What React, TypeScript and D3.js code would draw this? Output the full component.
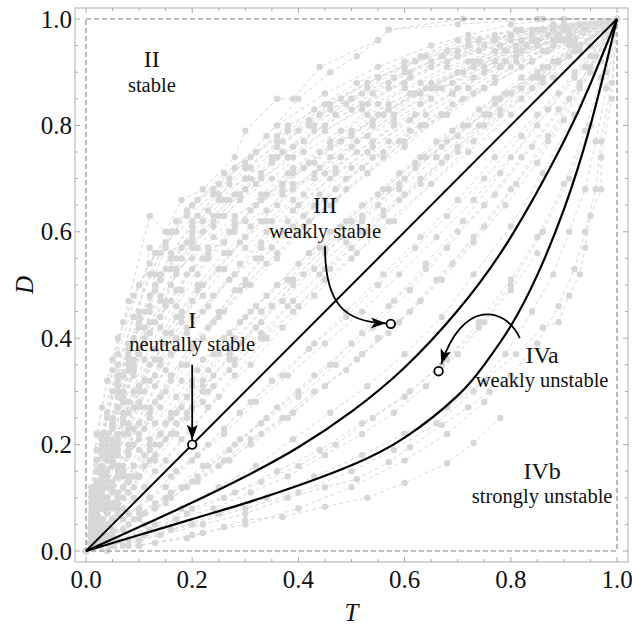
import React from "react";
import * as d3 from "d3";

const W = 632;
const H = 627;

const T_TICKS = [0, 0.2, 0.4, 0.6, 0.8, 1.0];
const D_TICKS = [0, 0.2, 0.4, 0.6, 0.8, 1.0];

const DIAGONAL: number[][] = [[0, 0], [1, 1]];
const MIDDLE_CURVE: number[][] = [[0, 0], [0.1, 0.045], [0.2, 0.091], [0.3, 0.14], [0.4, 0.195], [0.5, 0.262], [0.6, 0.345], [0.7, 0.452], [0.8, 0.59], [0.9, 0.77], [0.95, 0.878], [1, 1]];
const LOWER_CURVE: number[][] = [[0, 0], [0.1, 0.03], [0.2, 0.06], [0.3, 0.09], [0.4, 0.123], [0.5, 0.161], [0.6, 0.213], [0.7, 0.292], [0.75, 0.35], [0.8, 0.423], [0.85, 0.519], [0.9, 0.642], [0.95, 0.8], [1, 1]];

const MARKED_POINTS: number[][] = [[0.2, 0.2], [0.574, 0.427], [0.664, 0.338]];

const GRAY_SERIES: number[][][] = [
  [[0,0],[0.01,0.08],[0.03,0.22],[0.05,0.34],[0.08,0.47],[0.12,0.63],[0.15,0.6],[0.18,0.66],[0.22,0.68],[0.28,0.74],[0.3,0.79],[0.36,0.85],[0.39,0.85],[0.44,0.91],[0.55,0.96],[0.57,0.98],[0.71,1],[0.86,1],[1,1]],
  [[0,0],[0.02,0.1],[0.04,0.21],[0.07,0.33],[0.1,0.45],[0.12,0.57],[0.16,0.55],[0.2,0.6],[0.23,0.64],[0.27,0.69],[0.31,0.72],[0.36,0.77],[0.42,0.81],[0.48,0.85],[0.55,0.89],[0.63,0.93],[0.72,0.96],[0.82,0.98],[0.93,0.99],[1,1]],
  [[0,0],[0.01,0.05],[0.03,0.14],[0.05,0.24],[0.08,0.34],[0.11,0.42],[0.14,0.48],[0.18,0.55],[0.22,0.6],[0.27,0.66],[0.33,0.7],[0.39,0.74],[0.45,0.79],[0.52,0.83],[0.6,0.87],[0.68,0.91],[0.77,0.94],[0.87,0.97],[1,1]],
  [[0,0],[0.02,0.07],[0.04,0.15],[0.06,0.22],[0.09,0.3],[0.13,0.38],[0.17,0.46],[0.21,0.52],[0.26,0.58],[0.31,0.64],[0.37,0.69],[0.43,0.73],[0.5,0.78],[0.57,0.83],[0.65,0.87],[0.74,0.92],[0.84,0.96],[1,1]],
  [[0,0],[0.01,0.06],[0.02,0.13],[0.04,0.19],[0.06,0.27],[0.09,0.36],[0.12,0.41],[0.16,0.5],[0.2,0.57],[0.25,0.63],[0.29,0.67],[0.35,0.73],[0.41,0.77],[0.47,0.82],[0.54,0.86],[0.61,0.9],[0.7,0.93],[0.8,0.96],[0.9,0.98],[1,1]],
  [[0,0],[0.03,0.06],[0.05,0.12],[0.08,0.19],[0.11,0.27],[0.15,0.34],[0.19,0.41],[0.24,0.48],[0.29,0.54],[0.34,0.6],[0.4,0.65],[0.47,0.71],[0.54,0.76],[0.61,0.81],[0.69,0.86],[0.78,0.91],[0.88,0.95],[1,1]],
  [[0,0],[0.02,0.04],[0.04,0.09],[0.07,0.15],[0.1,0.22],[0.14,0.29],[0.18,0.35],[0.23,0.42],[0.28,0.49],[0.33,0.55],[0.39,0.61],[0.45,0.66],[0.52,0.72],[0.59,0.77],[0.67,0.82],[0.75,0.87],[0.84,0.92],[0.92,0.96],[1,1]],
  [[0,0],[0.01,0.09],[0.02,0.17],[0.04,0.26],[0.06,0.33],[0.09,0.4],[0.12,0.46],[0.15,0.53],[0.19,0.58],[0.24,0.62],[0.3,0.68],[0.36,0.74],[0.43,0.8],[0.5,0.85],[0.58,0.89],[0.67,0.93],[0.77,0.96],[0.88,0.98],[1,1]],
  [[0,0],[0.02,0.03],[0.05,0.08],[0.08,0.13],[0.12,0.19],[0.16,0.25],[0.2,0.31],[0.25,0.37],[0.3,0.44],[0.36,0.5],[0.42,0.56],[0.49,0.62],[0.56,0.68],[0.63,0.74],[0.71,0.8],[0.79,0.86],[0.88,0.92],[1,1]],
  [[0,0],[0.02,0.05],[0.03,0.11],[0.05,0.17],[0.07,0.24],[0.1,0.31],[0.13,0.38],[0.17,0.44],[0.21,0.5],[0.26,0.56],[0.31,0.61],[0.37,0.67],[0.44,0.72],[0.51,0.77],[0.58,0.82],[0.66,0.87],[0.75,0.91],[0.85,0.95],[1,1]],
  [[0,0],[0.01,0.04],[0.03,0.1],[0.05,0.18],[0.07,0.26],[0.09,0.34],[0.11,0.4],[0.14,0.47],[0.17,0.52],[0.21,0.57],[0.26,0.63],[0.32,0.69],[0.38,0.74],[0.45,0.79],[0.53,0.84],[0.61,0.89],[0.7,0.93],[0.8,0.97],[1,1]],
  [[0,0],[0.03,0.04],[0.06,0.08],[0.1,0.14],[0.14,0.2],[0.19,0.26],[0.24,0.33],[0.29,0.39],[0.35,0.46],[0.41,0.52],[0.48,0.59],[0.55,0.65],[0.62,0.72],[0.7,0.78],[0.78,0.85],[0.87,0.91],[1,1]],
  [[0,0],[0.02,0.02],[0.05,0.06],[0.09,0.1],[0.13,0.15],[0.18,0.21],[0.23,0.27],[0.28,0.33],[0.34,0.4],[0.4,0.46],[0.46,0.53],[0.53,0.6],[0.6,0.67],[0.68,0.74],[0.76,0.82],[0.85,0.89],[0.93,0.95],[1,1]],
  [[0,0],[0.01,0.03],[0.02,0.07],[0.04,0.12],[0.06,0.18],[0.08,0.24],[0.11,0.3],[0.14,0.36],[0.18,0.43],[0.22,0.5],[0.27,0.56],[0.33,0.62],[0.39,0.68],[0.46,0.74],[0.54,0.8],[0.63,0.86],[0.73,0.91],[0.85,0.96],[1,1]],
  [[0,0],[0.02,0.09],[0.03,0.16],[0.05,0.23],[0.07,0.29],[0.1,0.37],[0.13,0.43],[0.17,0.49],[0.22,0.55],[0.27,0.6],[0.33,0.66],[0.39,0.71],[0.46,0.76],[0.54,0.81],[0.62,0.86],[0.71,0.9],[0.81,0.94],[0.91,0.97],[1,1]],
  [[0,0],[0.02,0.11],[0.04,0.22],[0.06,0.3],[0.08,0.38],[0.1,0.44],[0.13,0.5],[0.16,0.56],[0.2,0.61],[0.25,0.66],[0.3,0.7],[0.36,0.76],[0.42,0.8],[0.49,0.84],[0.57,0.88],[0.65,0.92],[0.75,0.95],[0.86,0.98],[1,1]],
  [[0,0],[0.01,0.02],[0.03,0.05],[0.06,0.09],[0.09,0.14],[0.13,0.2],[0.17,0.26],[0.22,0.32],[0.27,0.38],[0.33,0.45],[0.39,0.51],[0.45,0.57],[0.52,0.63],[0.6,0.7],[0.68,0.77],[0.77,0.84],[0.86,0.91],[1,1]],
  [[0,0],[0.03,0.02],[0.07,0.06],[0.12,0.1],[0.17,0.15],[0.23,0.2],[0.29,0.26],[0.35,0.32],[0.42,0.38],[0.49,0.45],[0.56,0.52],[0.63,0.59],[0.7,0.66],[0.77,0.74],[0.85,0.82],[0.92,0.9],[1,1]],
  [[0,0],[0.04,0.03],[0.09,0.06],[0.15,0.1],[0.21,0.14],[0.27,0.19],[0.33,0.24],[0.4,0.29],[0.47,0.35],[0.54,0.42],[0.61,0.49],[0.68,0.57],[0.75,0.65],[0.82,0.74],[0.89,0.83],[0.95,0.91],[1,1]],
  [[0,0],[0.05,0.03],[0.1,0.07],[0.16,0.11],[0.22,0.16],[0.29,0.21],[0.36,0.27],[0.43,0.33],[0.5,0.39],[0.57,0.46],[0.64,0.54],[0.71,0.62],[0.78,0.71],[0.85,0.8],[0.92,0.89],[1,1]],
  [[0,0],[0.05,0.02],[0.11,0.05],[0.18,0.08],[0.25,0.12],[0.32,0.16],[0.39,0.21],[0.46,0.26],[0.53,0.31],[0.6,0.37],[0.67,0.44],[0.73,0.52],[0.8,0.61],[0.86,0.71],[0.92,0.82],[0.97,0.92],[1,1]],
  [[0,0],[0.06,0.02],[0.13,0.05],[0.2,0.08],[0.28,0.11],[0.36,0.15],[0.44,0.19],[0.52,0.24],[0.6,0.29],[0.67,0.35],[0.74,0.42],[0.8,0.5],[0.86,0.6],[0.91,0.7],[0.95,0.8],[0.98,0.9],[1,1]],
  [[0,0],[0.04,0.0],[0.08,0.01],[0.13,0.015],[0.19,0.024],[0.22,0.034],[0.26,0.045],[0.3,0.058],[0.37,0.064],[0.45,0.083],[0.53,0.1],[0.6,0.128],[0.68,0.165],[0.73,0.203],[0.78,0.25]],
  [[0,0],[0.07,0.01],[0.14,0.03],[0.22,0.05],[0.3,0.07],[0.38,0.1],[0.45,0.12],[0.51,0.135],[0.57,0.167],[0.61,0.195],[0.67,0.237],[0.72,0.27],[0.76,0.3]],
  [[0,0],[0.08,0.02],[0.16,0.04],[0.25,0.07],[0.34,0.1],[0.43,0.14],[0.52,0.18],[0.6,0.22],[0.68,0.27],[0.75,0.32],[0.81,0.37],[0.86,0.42],[0.89,0.43],[0.91,0.48],[0.93,0.52],[0.94,0.57],[0.95,0.63],[0.97,0.68],[0.97,0.74],[0.99,0.85],[1,1]],
  [[0,0],[0.1,0.02],[0.2,0.05],[0.3,0.08],[0.4,0.11],[0.5,0.15],[0.58,0.19],[0.66,0.24],[0.73,0.3],[0.79,0.37],[0.84,0.45],[0.88,0.52],[0.91,0.6],[0.94,0.68],[0.96,0.77],[0.98,0.87],[1,1]],
  [[0,0],[0.01,0.1],[0.02,0.19],[0.03,0.27],[0.05,0.36],[0.07,0.43],[0.1,0.5],[0.13,0.56],[0.17,0.62],[0.21,0.66],[0.26,0.71],[0.32,0.75],[0.38,0.8],[0.45,0.84],[0.53,0.88],[0.62,0.92],[0.72,0.95],[0.84,0.98],[1,1]],
  [[0,0],[0.02,0.05],[0.05,0.13],[0.08,0.2],[0.12,0.27],[0.16,0.33],[0.2,0.39],[0.25,0.45],[0.3,0.51],[0.35,0.57],[0.41,0.63],[0.47,0.68],[0.54,0.74],[0.61,0.79],[0.69,0.84],[0.77,0.89],[0.86,0.94],[1,1]],
  [[0,0],[0.01,0.05],[0.02,0.1],[0.03,0.15],[0.05,0.2],[0.07,0.25],[0.1,0.31],[0.13,0.36],[0.16,0.41],[0.2,0.47],[0.25,0.53],[0.3,0.59],[0.36,0.65],[0.43,0.71],[0.5,0.76],[0.58,0.82],[0.67,0.87],[0.77,0.92],[0.88,0.96],[1,1]],
  [[0,0],[0.03,0.08],[0.06,0.16],[0.09,0.23],[0.13,0.31],[0.17,0.38],[0.22,0.45],[0.27,0.51],[0.33,0.58],[0.39,0.64],[0.46,0.7],[0.53,0.75],[0.61,0.81],[0.69,0.86],[0.78,0.91],[0.88,0.96],[1,1]],
  [[0,0],[0.02,0.13],[0.04,0.25],[0.06,0.35],[0.09,0.44],[0.12,0.52],[0.15,0.58],[0.19,0.63],[0.24,0.67],[0.3,0.72],[0.37,0.77],[0.44,0.82],[0.52,0.86],[0.6,0.9],[0.7,0.94],[0.8,0.97],[0.9,0.99],[1,1]],
  [[0,0],[0.04,0.05],[0.08,0.11],[0.12,0.17],[0.17,0.24],[0.22,0.3],[0.27,0.37],[0.33,0.43],[0.39,0.5],[0.45,0.56],[0.52,0.62],[0.59,0.68],[0.66,0.74],[0.74,0.8],[0.82,0.87],[0.91,0.93],[1,1]],
  [[0,0],[0.01,0.03],[0.02,0.06],[0.04,0.1],[0.06,0.15],[0.09,0.2],[0.12,0.26],[0.16,0.32],[0.2,0.38],[0.25,0.44],[0.3,0.5],[0.36,0.56],[0.42,0.62],[0.49,0.68],[0.56,0.74],[0.64,0.8],[0.73,0.86],[0.82,0.91],[0.91,0.96],[1,1]],
  [[0,0],[0.03,0.1],[0.05,0.19],[0.08,0.28],[0.11,0.36],[0.14,0.42],[0.18,0.49],[0.23,0.55],[0.28,0.61],[0.34,0.67],[0.41,0.72],[0.48,0.77],[0.56,0.82],[0.64,0.87],[0.73,0.91],[0.83,0.95],[1,1]],
  [[0,0],[0.02,0.02],[0.04,0.05],[0.07,0.08],[0.11,0.12],[0.15,0.17],[0.2,0.23],[0.25,0.29],[0.31,0.35],[0.37,0.42],[0.43,0.48],[0.5,0.55],[0.57,0.62],[0.65,0.69],[0.73,0.77],[0.82,0.85],[0.91,0.93],[1,1]],
  [[0,0],[0.05,0.04],[0.1,0.08],[0.15,0.12],[0.2,0.17],[0.26,0.22],[0.32,0.28],[0.38,0.33],[0.45,0.39],[0.52,0.45],[0.59,0.52],[0.66,0.59],[0.73,0.66],[0.8,0.74],[0.87,0.83],[0.94,0.91],[1,1]],
  [[0,0],[0.04,0.02],[0.08,0.05],[0.13,0.08],[0.19,0.12],[0.25,0.16],[0.31,0.2],[0.38,0.25],[0.45,0.31],[0.52,0.37],[0.59,0.43],[0.66,0.51],[0.73,0.59],[0.8,0.68],[0.87,0.78],[0.93,0.88],[1,1]],
  [[0,0],[0.02,0.15],[0.05,0.3],[0.09,0.44],[0.14,0.56],[0.2,0.65],[0.28,0.72],[0.36,0.8],[0.45,0.86],[0.55,0.91],[0.65,0.95],[0.72,0.97],[0.8,0.99],[0.9,1],[1,1]],
  [[0,0],[0.01,0.12],[0.02,0.22],[0.04,0.32],[0.06,0.4],[0.09,0.48],[0.12,0.54],[0.16,0.6],[0.2,0.65],[0.25,0.69],[0.31,0.74],[0.38,0.79],[0.46,0.84],[0.55,0.89],[0.64,0.93],[0.74,0.96],[0.85,0.98],[1,1]],
  [[0,0],[0.03,0.03],[0.06,0.07],[0.09,0.12],[0.13,0.17],[0.17,0.22],[0.22,0.28],[0.27,0.34],[0.33,0.4],[0.39,0.47],[0.45,0.53],[0.52,0.6],[0.59,0.66],[0.67,0.73],[0.75,0.8],[0.84,0.87],[0.92,0.94],[1,1]],
  [[0,0],[0.02,0.1],[0.05,0.25],[0.09,0.4],[0.14,0.52],[0.2,0.62],[0.27,0.7],[0.34,0.78],[0.4,0.85],[0.46,0.9],[0.51,0.93],[0.55,0.96],[0.57,0.98],[0.7,0.99],[0.85,1],[1,1]],
  [[0,0],[0.01,0.04],[0.03,0.12],[0.05,0.2],[0.07,0.28],[0.1,0.37],[0.12,0.45],[0.13,0.52],[0.15,0.57],[0.19,0.64],[0.24,0.68],[0.3,0.73],[0.36,0.78],[0.43,0.83],[0.51,0.88],[0.6,0.92],[0.7,0.96],[0.81,0.98],[1,1]],
  [[0,0],[0.01,0.06],[0.02,0.09],[0.04,0.17],[0.05,0.21],[0.07,0.29],[0.09,0.33],[0.11,0.39],[0.14,0.44],[0.16,0.47],[0.2,0.53],[0.23,0.56],[0.28,0.6],[0.32,0.65],[0.37,0.68],[0.42,0.73],[0.48,0.77],[0.55,0.82],[0.62,0.86],[0.7,0.9],[0.79,0.94],[0.89,0.97],[1,1]],
  [[0,0],[0.02,0.04],[0.03,0.08],[0.05,0.11],[0.07,0.16],[0.1,0.21],[0.12,0.25],[0.15,0.3],[0.19,0.35],[0.22,0.4],[0.26,0.45],[0.31,0.5],[0.36,0.55],[0.41,0.61],[0.47,0.66],[0.53,0.71],[0.6,0.76],[0.67,0.82],[0.75,0.87],[0.84,0.92],[0.92,0.96],[1,1]],
  [[0,0],[0.01,0.02],[0.02,0.05],[0.03,0.08],[0.05,0.12],[0.06,0.16],[0.08,0.2],[0.1,0.24],[0.13,0.28],[0.16,0.33],[0.2,0.39],[0.24,0.43],[0.29,0.49],[0.34,0.54],[0.4,0.6],[0.46,0.65],[0.53,0.71],[0.6,0.77],[0.68,0.82],[0.77,0.88],[0.87,0.94],[1,1]],
  [[0,0],[0.02,0.06],[0.04,0.1],[0.06,0.14],[0.08,0.18],[0.11,0.23],[0.14,0.27],[0.18,0.32],[0.22,0.36],[0.27,0.41],[0.32,0.46],[0.38,0.51],[0.44,0.57],[0.5,0.62],[0.57,0.68],[0.64,0.74],[0.72,0.8],[0.8,0.86],[0.89,0.92],[1,1]],
  [[0,0],[0.03,0.05],[0.05,0.09],[0.08,0.13],[0.11,0.16],[0.15,0.21],[0.19,0.25],[0.23,0.3],[0.28,0.35],[0.33,0.4],[0.39,0.45],[0.45,0.51],[0.51,0.56],[0.58,0.62],[0.65,0.69],[0.72,0.75],[0.8,0.82],[0.88,0.89],[0.95,0.95],[1,1]],
  [[0,0],[0.04,0.03],[0.08,0.05],[0.13,0.09],[0.18,0.12],[0.23,0.16],[0.28,0.2],[0.34,0.25],[0.4,0.3],[0.46,0.35],[0.52,0.41],[0.58,0.47],[0.64,0.53],[0.7,0.6],[0.77,0.67],[0.84,0.76],[0.91,0.85],[0.96,0.93],[1,1]],
  [[0,0],[0.03,0.02],[0.07,0.04],[0.11,0.07],[0.16,0.1],[0.21,0.13],[0.27,0.17],[0.33,0.22],[0.39,0.26],[0.45,0.31],[0.51,0.36],[0.57,0.41],[0.63,0.47],[0.69,0.54],[0.75,0.61],[0.81,0.69],[0.87,0.77],[0.93,0.87],[1,1]],
  [[0,0],[0.06,0.02],[0.12,0.04],[0.19,0.07],[0.26,0.1],[0.33,0.13],[0.4,0.16],[0.47,0.2],[0.54,0.25],[0.61,0.3],[0.68,0.36],[0.74,0.43],[0.8,0.51],[0.85,0.59],[0.9,0.69],[0.94,0.79],[0.97,0.89],[1,1]],
  [[0,0],[0.1,0.01],[0.2,0.03],[0.3,0.05],[0.4,0.08],[0.5,0.12],[0.6,0.17],[0.68,0.22],[0.75,0.28],[0.8,0.33],[0.85,0.39],[0.89,0.46],[0.92,0.53],[0.94,0.6],[0.96,0.68],[0.97,0.77],[0.99,0.88],[1,1]],
  [[0,0],[0.01,0.07],[0.02,0.11],[0.03,0.18],[0.04,0.22],[0.06,0.27],[0.08,0.35],[0.1,0.38],[0.12,0.43],[0.15,0.47],[0.17,0.53],[0.2,0.55],[0.24,0.59],[0.28,0.63],[0.33,0.66],[0.38,0.71],[0.44,0.75],[0.5,0.79],[0.57,0.84],[0.65,0.88],[0.73,0.92],[0.82,0.96],[0.91,0.98],[1,1]],
  [[0,0],[0.01,0.01],[0.02,0.04],[0.03,0.06],[0.05,0.09],[0.07,0.12],[0.09,0.16],[0.12,0.2],[0.15,0.24],[0.19,0.29],[0.23,0.34],[0.28,0.4],[0.33,0.45],[0.39,0.51],[0.45,0.57],[0.52,0.63],[0.59,0.69],[0.67,0.76],[0.75,0.82],[0.84,0.89],[0.92,0.95],[1,1]],
  [[0,0],[0.02,0.08],[0.03,0.12],[0.05,0.16],[0.06,0.2],[0.08,0.23],[0.1,0.28],[0.12,0.32],[0.14,0.35],[0.17,0.4],[0.2,0.44],[0.24,0.48],[0.28,0.52],[0.33,0.57],[0.38,0.62],[0.44,0.67],[0.5,0.72],[0.57,0.77],[0.64,0.82],[0.72,0.87],[0.81,0.92],[0.9,0.96],[1,1]],
  [[0,0],[0.02,0.12],[0.04,0.2],[0.06,0.29],[0.08,0.36],[0.11,0.45],[0.14,0.51],[0.18,0.57],[0.22,0.62],[0.26,0.66],[0.31,0.7],[0.37,0.75],[0.43,0.79],[0.5,0.83],[0.57,0.87],[0.65,0.91],[0.74,0.94],[0.84,0.97],[1,1]],
  [[0,0],[0.03,0.2],[0.06,0.37],[0.1,0.5],[0.13,0.56],[0.17,0.6],[0.21,0.63],[0.25,0.67],[0.3,0.7],[0.35,0.74],[0.4,0.79],[0.46,0.83],[0.53,0.87],[0.6,0.91],[0.68,0.94],[0.77,0.97],[0.88,0.99],[1,1]],
  [[0,0],[0.01,0.03],[0.02,0.04],[0.04,0.08],[0.06,0.1],[0.08,0.14],[0.11,0.18],[0.14,0.22],[0.18,0.27],[0.22,0.31],[0.27,0.36],[0.32,0.42],[0.37,0.47],[0.43,0.53],[0.49,0.58],[0.56,0.64],[0.63,0.7],[0.7,0.76],[0.78,0.83],[0.86,0.89],[0.93,0.95],[1,1]],
  [[0,0],[0.02,0.03],[0.04,0.07],[0.06,0.11],[0.09,0.16],[0.12,0.21],[0.16,0.26],[0.2,0.32],[0.24,0.37],[0.29,0.43],[0.34,0.48],[0.4,0.54],[0.46,0.6],[0.52,0.65],[0.59,0.71],[0.66,0.77],[0.74,0.83],[0.82,0.89],[0.91,0.95],[1,1]],
  [[0,0],[0.01,0.05],[0.03,0.09],[0.04,0.14],[0.06,0.19],[0.08,0.22],[0.1,0.27],[0.13,0.33],[0.16,0.37],[0.19,0.42],[0.23,0.46],[0.27,0.51],[0.32,0.55],[0.37,0.6],[0.43,0.65],[0.49,0.7],[0.56,0.75],[0.63,0.8],[0.71,0.85],[0.8,0.91],[0.9,0.96],[1,1]],
  [[0,0],[0.05,0.03],[0.1,0.06],[0.15,0.09],[0.2,0.13],[0.26,0.17],[0.31,0.21],[0.37,0.25],[0.43,0.3],[0.49,0.34],[0.55,0.4],[0.61,0.45],[0.67,0.51],[0.73,0.58],[0.79,0.65],[0.85,0.73],[0.9,0.81],[0.95,0.9],[1,1]],
  [[0.05,0.01],[0.11,0.03],[0.17,0.06],[0.24,0.08],[0.31,0.11],[0.38,0.14],[0.45,0.18],[0.52,0.22],[0.58,0.26],[0.64,0.31],[0.7,0.37],[0.75,0.43],[0.8,0.49],[0.85,0.56]],
  [[0.3,0.62],[0.34,0.64],[0.39,0.69],[0.43,0.7],[0.48,0.74],[0.53,0.78],[0.58,0.81],[0.63,0.84],[0.69,0.88],[0.75,0.9],[0.81,0.93],[0.88,0.96],[0.94,0.98],[1,1]],
  [[0,0],[0.02,0.07],[0.04,0.13],[0.05,0.17],[0.07,0.22],[0.09,0.27],[0.11,0.32],[0.13,0.36],[0.15,0.41],[0.18,0.45],[0.21,0.49],[0.25,0.53],[0.29,0.58],[0.34,0.62],[0.39,0.66],[0.45,0.71],[0.51,0.75],[0.58,0.8],[0.65,0.85],[0.73,0.89],[0.82,0.94],[0.91,0.97],[1,1]],
  [[0,0],[0.01,0.09],[0.02,0.15],[0.03,0.21],[0.04,0.25],[0.06,0.32],[0.08,0.37],[0.1,0.42],[0.12,0.48],[0.14,0.51],[0.17,0.55],[0.2,0.59],[0.24,0.63],[0.28,0.67],[0.33,0.71],[0.39,0.76],[0.45,0.8],[0.52,0.84],[0.6,0.88],[0.68,0.92],[0.78,0.95],[0.88,0.98],[1,1]],
  [[0,0],[0.03,0.04],[0.05,0.06],[0.07,0.1],[0.1,0.14],[0.13,0.18],[0.16,0.22],[0.2,0.27],[0.24,0.31],[0.28,0.36],[0.33,0.41],[0.38,0.46],[0.44,0.52],[0.5,0.57],[0.56,0.63],[0.63,0.69],[0.7,0.75],[0.78,0.82],[0.86,0.88],[0.93,0.94],[1,1]],
  [[0,0],[0.01,0.06],[0.02,0.12],[0.04,0.18],[0.05,0.24],[0.07,0.3],[0.09,0.35],[0.12,0.41],[0.15,0.46],[0.19,0.52],[0.23,0.57],[0.28,0.62],[0.33,0.67],[0.39,0.72],[0.46,0.77],[0.53,0.82],[0.61,0.86],[0.7,0.9],[0.79,0.94],[0.89,0.97],[1,1]],
  [[0,0],[0.02,0.01],[0.05,0.04],[0.08,0.07],[0.12,0.1],[0.16,0.14],[0.21,0.18],[0.26,0.23],[0.31,0.28],[0.37,0.33],[0.43,0.39],[0.49,0.44],[0.55,0.5],[0.62,0.57],[0.68,0.63],[0.75,0.7],[0.82,0.78],[0.89,0.86],[0.95,0.93],[1,1]],
  [[0,0],[0.02,0.05],[0.04,0.1],[0.07,0.14],[0.1,0.19],[0.13,0.24],[0.17,0.29],[0.21,0.34],[0.26,0.4],[0.31,0.45],[0.36,0.5],[0.42,0.56],[0.48,0.61],[0.55,0.67],[0.62,0.73],[0.69,0.79],[0.77,0.85],[0.85,0.9],[0.93,0.95],[1,1]],
  [[0,0],[0.01,0.04],[0.02,0.09],[0.03,0.13],[0.04,0.17],[0.06,0.21],[0.08,0.26],[0.1,0.3],[0.12,0.35],[0.15,0.39],[0.18,0.44],[0.22,0.48],[0.26,0.53],[0.3,0.57],[0.35,0.62],[0.41,0.67],[0.47,0.72],[0.54,0.77],[0.62,0.82],[0.7,0.87],[0.79,0.92],[0.89,0.96],[1,1]],
  [[0,0],[0.01,0.11],[0.03,0.19],[0.04,0.26],[0.06,0.31],[0.08,0.39],[0.1,0.43],[0.13,0.49],[0.16,0.53],[0.2,0.58],[0.24,0.61],[0.29,0.66],[0.35,0.7],[0.41,0.75],[0.48,0.79],[0.55,0.84],[0.63,0.88],[0.72,0.92],[0.81,0.95],[0.9,0.98],[1,1]]
];

// annotation anchors, in data units
const REGION_LABELS = [
  { t: 0.124, num: "II", numD: 0.91, desc: "stable", descD: 0.862 },
  { t: 0.45, num: "III", numD: 0.635, desc: "weakly stable", descD: 0.588 },
  { t: 0.2, num: "I", numD: 0.419, desc: "neutrally stable", descD: 0.376 },
  { t: 0.859, num: "IVa", numD: 0.353, desc: "weakly unstable", descD: 0.308 },
  { t: 0.859, num: "IVb", numD: 0.135, desc: "strongly unstable", descD: 0.09 }
];

// arrows as cubic Bezier control points in data units: [start, c1, c2, end]
const ARROWS: number[][][] = [
  [[0.2, 0.35], [0.2, 0.3], [0.2, 0.25], [0.2, 0.209]],
  [[0.45, 0.573], [0.45, 0.463], [0.488, 0.43], [0.565, 0.428]],
  [[0.817, 0.4], [0.789, 0.462], [0.708, 0.472], [0.669, 0.351]]
];

export default function App() {
  const x = d3.scaleLinear().domain([0, 1]).range([86, 617]);
  const y = d3.scaleLinear().domain([0, 1]).range([551, 19]);
  const straight = d3.line<number[]>().x((d) => x(d[0])).y((d) => y(d[1]));
  const smooth = d3.line<number[]>().x((d) => x(d[0])).y((d) => y(d[1])).curve(d3.curveNatural);
  const minor = d3.range(0, 1.0001, 0.05);
  const pad = 11;
  const fl = x(0) - pad, fr = x(1) + pad, ft = y(1) - pad, fb = y(0) + pad;
  const serif = "'Liberation Serif', 'Times New Roman', Times, serif";

  const arrowPath = (a: number[][]) => {
    const p = d3.path();
    p.moveTo(x(a[0][0]), y(a[0][1]));
    p.bezierCurveTo(x(a[1][0]), y(a[1][1]), x(a[2][0]), y(a[2][1]), x(a[3][0]), y(a[3][1]));
    return p.toString();
  };

  return (
    <svg width={W} height={H} style={{ position: "absolute", left: 0, top: 0, background: "#fff", fontFamily: serif }}>
      <defs>
        <marker id="ah" markerUnits="userSpaceOnUse" markerWidth="16" markerHeight="12" refX="15" refY="5.5" orient="auto">
          <path d="M0,0 L15,5.5 L0,11 L3.5,5.5 Z" fill="#000" />
        </marker>
        <clipPath id="clip">
          <rect x={fl} y={ft} width={fr - fl} height={fb - ft} />
        </clipPath>
      </defs>
      <rect x={0} y={0} width={W} height={H} fill="#fff" />

      {/* gray background series */}
      <g clipPath="url(#clip)">
        {GRAY_SERIES.map((s, i) => (
          <path key={"l" + i} d={straight(s) || ""} fill="none" stroke="#d9d9d9" strokeWidth={1} strokeDasharray="4,3" />
        ))}
        {GRAY_SERIES.map((s, i) =>
          s.map((p, j) => (
            <circle key={"c" + i + "-" + j} cx={x(p[0])} cy={y(p[1])} r={3.2} fill="#d7d7d7" />
          ))
        )}
      </g>

      {/* dashed bounding box of the unit square */}
      <rect x={x(0)} y={y(1)} width={x(1) - x(0)} height={y(0) - y(1)} fill="none" stroke="#808080" strokeWidth={1.1} strokeDasharray="5,3" />

      {/* frame */}
      <rect x={fl} y={ft} width={fr - fl} height={fb - ft} fill="none" stroke="#bdbdbd" strokeWidth={1.2} />
      {minor.map((v, i) => {
        const major = T_TICKS.some((t) => Math.abs(t - v) < 1e-6);
        const len = major ? 5 : 3;
        return (
          <g key={"tk" + i} stroke="#a8a8a8" strokeWidth={1}>
            <line x1={x(v)} x2={x(v)} y1={fb} y2={fb - len} />
            <line x1={x(v)} x2={x(v)} y1={ft} y2={ft + len} />
            <line x1={fl} x2={fl + len} y1={y(v)} y2={y(v)} />
            <line x1={fr} x2={fr - len} y1={y(v)} y2={y(v)} />
          </g>
        );
      })}

      {/* tick labels */}
      {T_TICKS.map((t) => (
        <text key={"tx" + t} x={x(t)} y={fb + 26} textAnchor="middle" fontSize={25} fill="#111" fontFamily={serif}>
          {t.toFixed(1)}
        </text>
      ))}
      {D_TICKS.map((d) => (
        <text key={"ty" + d} x={fl - 3} y={y(d) + 8.5} textAnchor="end" fontSize={25} fill="#111" fontFamily={serif}>
          {d.toFixed(1)}
        </text>
      ))}

      {/* axis titles */}
      <text x={x(0.5)} y={621} textAnchor="middle" fontSize={25} fontStyle="italic" fill="#111" fontFamily={serif}>T</text>
      <text transform={`translate(33,${y(0.5)}) rotate(-90)`} textAnchor="middle" fontSize={25} fontStyle="italic" fill="#111" fontFamily={serif}>D</text>

      {/* black boundary curves */}
      <path d={straight(DIAGONAL) || ""} fill="none" stroke="#000" strokeWidth={2} />
      <path d={smooth(MIDDLE_CURVE) || ""} fill="none" stroke="#000" strokeWidth={2.2} />
      <path d={smooth(LOWER_CURVE) || ""} fill="none" stroke="#000" strokeWidth={2.2} />

      {/* arrows */}
      {ARROWS.map((a, i) => (
        <path key={"ar" + i} d={arrowPath(a)} fill="none" stroke="#000" strokeWidth={1.8} markerEnd="url(#ah)" />
      ))}

      {/* marked points */}
      {MARKED_POINTS.map((p, i) => (
        <circle key={"mp" + i} cx={x(p[0])} cy={y(p[1])} r={4.3} fill="#fff" stroke="#000" strokeWidth={1.8} />
      ))}

      {/* region labels */}
      {REGION_LABELS.map((l) => (
        <g key={l.num} fill="#111" textAnchor="middle" fontFamily={serif}>
          <text x={x(l.t)} y={y(l.numD)} fontSize={24}>{l.num}</text>
          <text x={x(l.t)} y={y(l.descD)} fontSize={20.5}>{l.desc}</text>
        </g>
      ))}
    </svg>
  );
}
